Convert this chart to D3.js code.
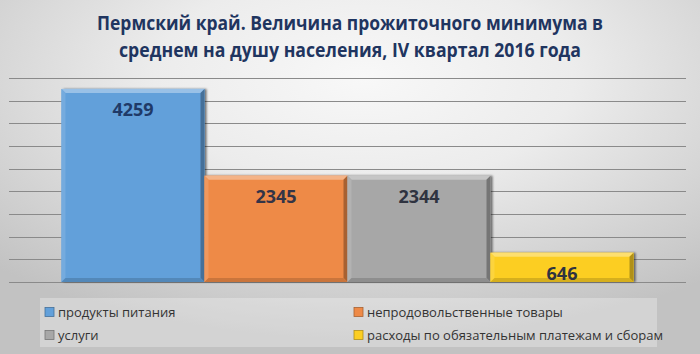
<!DOCTYPE html>
<html>
<head>
<meta charset="utf-8">
<script src="https://cdn.jsdelivr.net/npm/d3@7"></script>
<style>
  html, body { margin: 0; padding: 0; background: #fff; }
  svg { display: block; }
</style>
</head>
<body>
<svg width="700" height="354"></svg>
<script>
const width = 700;
const height = 354;

const titleLines = [
  'Пермский край. Величина прожиточного минимума в',
  'среднем на душу населения, IV квартал 2016 года'
];
const series = [
  'продукты питания',
  'непродовольственные товары',
  'услуги',
  'расходы по обязательным платежам и сборам'
];
const values = [4259, 2345, 2344, 646];
const colors = ['#62a0da', '#ee8a47', '#a7a7a7', '#fcce22'];
const labelColors = ['#1f3a68', '#333447', '#2f3340', '#2f3340'];
const yMax = 4500;
const gridStep = 500;

const plotL = 9, plotR = 686, plotT = 78, plotB = 282;

const svg = d3.select('svg');
const defs = svg.append('defs');

// background: light centre fading to grey edges
const bg = defs.append('radialGradient')
    .attr('id', 'bg')
    .attr('cx', '52%').attr('cy', '22%')
    .attr('r', '75%');
bg.append('stop').attr('offset', '0%').attr('stop-color', '#f8f8f8');
bg.append('stop').attr('offset', '40%').attr('stop-color', '#ececec');
bg.append('stop').attr('offset', '100%').attr('stop-color', '#c2c2c2');

const shadow = defs.append('filter')
    .attr('id', 'shadow')
    .attr('x', '-10%').attr('y', '-10%')
    .attr('width', '130%').attr('height', '130%');
shadow.append('feDropShadow')
    .attr('dx', 2).attr('dy', 0)
    .attr('stdDeviation', 1.2)
    .attr('flood-color', '#000')
    .attr('flood-opacity', 0.55);

svg.append('rect')
    .attr('width', width)
    .attr('height', height)
    .attr('fill', 'url(#bg)');

// title
svg.append('g')
  .selectAll('text')
  .data(titleLines)
  .join('text')
    .attr('x', width / 2)
    .attr('y', (d, i) => 30 + i * 27)
    .attr('text-anchor', 'middle')
    .attr('font-family', 'Open Sans, sans-serif')
    .attr('font-weight', 'bold')
    .attr('font-size', 19)
    .attr('fill', '#1f3560')
    .attr('textLength', (d, i) => i === 0 ? 506 : 462)
    .attr('lengthAdjust', 'spacingAndGlyphs')
    .text(d => d);

const y = d3.scaleLinear()
    .domain([0, yMax])
    .range([plotB, plotT]);

const x = d3.scaleBand()
    .domain(series)
    .range([plotL, plotR])
    .paddingInner(0)
    .paddingOuter(0.367);

// gridlines
svg.append('g')
  .selectAll('line')
  .data(d3.range(0, yMax + 1, gridStep))
  .join('line')
    .attr('x1', plotL)
    .attr('x2', plotR)
    .attr('y1', d => Math.round(y(d)) + 0.5)
    .attr('y2', d => Math.round(y(d)) + 0.5)
    .attr('stroke', '#8a8a8a')
    .attr('stroke-width', 1);

// bars with a bevel
const b = 4;
const bars = svg.append('g')
  .selectAll('g')
  .data(series.map((s, i) => ({ name: s, value: values[i], color: colors[i], label: labelColors[i] })))
  .join('g');

bars.append('rect')
    .attr('x', d => x(d.name))
    .attr('y', d => y(d.value))
    .attr('width', x.bandwidth())
    .attr('height', d => y(0) - y(d.value))
    .attr('fill', d => d.color)
    .attr('filter', 'url(#shadow)');

const bevel = (d, side) => {
  const x0 = x(d.name), x1 = x0 + x.bandwidth();
  const y0 = y(d.value), y1 = y(0);
  if (side === 'top') return [[x0, y0], [x1, y0], [x1 - b, y0 + b], [x0 + b, y0 + b]];
  if (side === 'left') return [[x0, y0], [x0 + b, y0 + b], [x0 + b, y1 - b], [x0, y1]];
  if (side === 'right') return [[x1, y0], [x1, y1], [x1 - b, y1 - b], [x1 - b, y0 + b]];
  return [[x0, y1], [x0 + b, y1 - b], [x1 - b, y1 - b], [x1, y1]];
};

const bevelColor = {
  top: c => d3.interpolateRgb(c, '#ffffff')(0.35),
  left: c => d3.interpolateRgb(c, '#ffffff')(0.12),
  right: c => d3.interpolateRgb(c, '#000000')(0.3),
  bottom: c => d3.interpolateRgb(c, '#000000')(0.15)
};

['top', 'left', 'right', 'bottom'].forEach(side => {
  bars.append('polygon')
      .attr('points', d => bevel(d, side).join(' '))
      .attr('fill', d => bevelColor[side](d.color));
});

bars.append('text')
    .attr('x', d => x(d.name) + x.bandwidth() / 2)
    .attr('y', d => y(d.value) + 27.5)
    .attr('text-anchor', 'middle')
    .attr('font-family', 'Open Sans, sans-serif')
    .attr('font-weight', 'bold')
    .attr('font-size', 18)
    .attr('fill', d => d.label)
    .text(d => d.value);

// legend
svg.append('rect')
    .attr('x', 40)
    .attr('y', 298)
    .attr('width', 617)
    .attr('height', 49)
    .attr('fill', '#ffffff')
    .attr('fill-opacity', 0.28);

const legend = svg.append('g')
  .selectAll('g')
  .data(series)
  .join('g')
    .attr('transform', (d, i) => `translate(${i % 2 === 0 ? 45 : 354},${i < 2 ? 312 : 335})`);

legend.append('rect')
    .attr('x', 0)
    .attr('y', -4.5)
    .attr('width', 9)
    .attr('height', 9)
    .attr('fill', (d, i) => colors[i])
    .attr('stroke', (d, i) => d3.interpolateRgb(colors[i], '#000')(0.3))
    .attr('stroke-width', 0.8);

legend.append('text')
    .attr('x', 13)
    .attr('y', 4.5)
    .attr('font-family', 'Open Sans, sans-serif')
    .attr('font-size', 13)
    .attr('fill', '#333')
    .text(d => d);
</script>
</body>
</html>
